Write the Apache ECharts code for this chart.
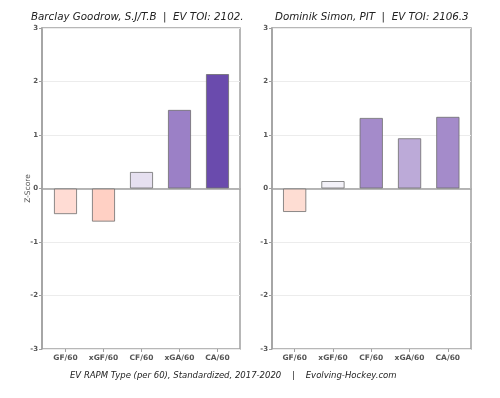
<!DOCTYPE html>
<html>
<head>
<meta charset="utf-8">
<script src="https://cdn.jsdelivr.net/npm/echarts@6/dist/echarts.min.js"></script>
<style>
  html, body { margin: 0; padding: 0; background: #fff; }
  #chart { width: 500px; height: 398px; }
</style>
</head>
<body>
<div id="chart"></div>
<script>
// RAPM categories and per-player z-scores
var categories = ['GF/60', 'xGF/60', 'CF/60', 'xGA/60', 'CA/60'];
var goodrowValues = [-0.48, -0.62, 0.31, 1.47, 2.14];
var simonValues = [-0.44, 0.14, 1.32, 0.94, 1.34];
var goodrowColors = ['#FFDCD4', '#FFD0C4', '#E6E0F0', '#9B80C6', '#6A4BAD'];
var simonColors = ['#FEDDD3', '#F3F1F8', '#A48BCA', '#BCAAD8', '#A48BCA'];
var yTicks = [-3, -2, -1, 0, 1, 2, 3];

var font = 'DejaVu Sans';
var frameColor = '#a0a0a0';
var labelColor = '#555';

var chart = echarts.init(document.getElementById('chart'), null, { renderer: 'canvas' });

function frameXAxis(gi) {
  return {
    type: 'value', gridIndex: gi, min: 0, max: 1,
    axisLine: { show: true, onZero: true, lineStyle: { color: frameColor, width: 1.5 } },
    axisTick: { show: false }, axisLabel: { show: false }, splitLine: { show: false }
  };
}

function frameYAxis(gi, name) {
  return {
    type: 'value', gridIndex: gi,
    min: yTicks[0], max: yTicks[yTicks.length - 1], interval: 1,
    name: name, nameLocation: 'middle', nameGap: 10, nameRotate: 90, nameMoveOverlap: false,
    nameTextStyle: { fontFamily: font, fontSize: 7.5, color: labelColor },
    axisLine: { show: true, lineStyle: { color: frameColor, width: 1.5 } },
    axisTick: { show: true, length: 3, lineStyle: { color: frameColor } },
    axisLabel: { fontFamily: font, fontSize: 7, fontWeight: 'bold', color: labelColor, margin: 4 },
    splitLine: { show: true, lineStyle: { color: '#ececec', width: 1 } }
  };
}

function dataXAxis(gi) {
  return {
    type: 'category', gridIndex: gi, data: categories, position: 'bottom',
    axisLine: { show: false, onZero: false },
    axisTick: { show: true, alignWithLabel: true, interval: 0, length: 3, lineStyle: { color: frameColor } },
    axisLabel: { interval: 0, fontFamily: font, fontSize: 7.5, fontWeight: 'bold', color: labelColor, margin: 5 }
  };
}

function dataYAxis(gi) {
  return { type: 'value', gridIndex: gi, min: -3, max: 3, show: false };
}

function barSeries(gi, values, colors) {
  return {
    type: 'bar', xAxisIndex: gi, yAxisIndex: gi, barWidth: '61%',
    data: values.map(function (v, i) {
      return { value: v, itemStyle: { color: colors[i] } };
    }),
    itemStyle: { borderColor: 'rgba(110,110,110,0.8)', borderWidth: 1 },
    z: 1
  };
}

var option = {
  animation: false,
  backgroundColor: '#fff',
  title: [
    {
      text: 'Barclay Goodrow, S.J/T.B  |  EV TOI: 2102.8', left: 31, top: 12, padding: 0,
      textStyle: { fontFamily: font, fontSize: 10.3, fontStyle: 'italic', fontWeight: 'normal', color: '#222',
        width: 220, overflow: 'truncate', ellipsis: '' }
    },
    {
      text: 'Dominik Simon, PIT  |  EV TOI: 2106.3', left: 275, top: 12, padding: 0,
      textStyle: { fontFamily: font, fontSize: 10.3, fontStyle: 'italic', fontWeight: 'normal', color: '#222' }
    },
    {
      text: 'EV RAPM Type (per 60), Standardized, 2017-2020    |    Evolving-Hockey.com', left: 70, top: 371, padding: 0,
      textStyle: { fontFamily: font, fontSize: 8.5, fontStyle: 'italic', fontWeight: 'normal', color: '#222' }
    }
  ],
  grid: [
    // frames
    { left: 42, right: 260, top: 28, bottom: 49, show: true, borderColor: frameColor, borderWidth: 1.5 },
    { left: 272, right: 29, top: 28, bottom: 49, show: true, borderColor: frameColor, borderWidth: 1.5 },
    // bar areas (inset like matplotlib's x margins)
    { left: 46.5, right: 263.5, top: 28, bottom: 49 },
    { left: 275.5, right: 33, top: 28, bottom: 49 }
  ],
  xAxis: [frameXAxis(0), frameXAxis(1), dataXAxis(2), dataXAxis(3)],
  yAxis: [frameYAxis(0, 'Z-Score'), frameYAxis(1, ''), dataYAxis(2), dataYAxis(3)],
  series: [
    barSeries(2, goodrowValues, goodrowColors),
    barSeries(3, simonValues, simonColors)
  ]
};

chart.setOption(option);
</script>
</body>
</html>
